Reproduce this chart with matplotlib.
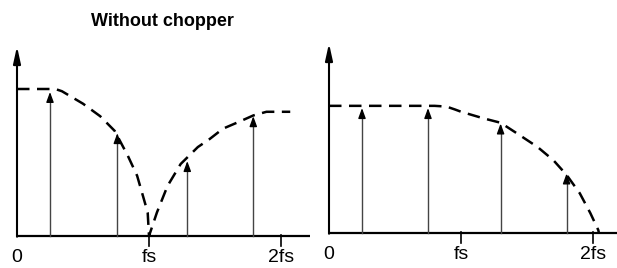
import numpy as np
import matplotlib
matplotlib.use("Agg")
import matplotlib.pyplot as plt

plt.rcParams['font.family'] = ['Liberation Sans', 'DejaVu Sans']

# frequency axis in units of fs, amplitude relative to the left peak
tick_pos = [0, 1, 2]
tick_labels = ['0', 'fs', '2fs']
title_left = 'Without chopper'

# left panel: envelope (dashed) and the sampled components (arrows)
env_left_x = [0.0, 0.29, 0.34, 0.50, 0.63, 0.74, 0.84, 0.91, 0.955, 0.99, 1.0,
              1.06, 1.14, 1.24, 1.37, 1.46, 1.56, 1.69, 1.79, 1.89, 2.07]
env_left_y = [1.0, 1.0, 0.985, 0.90, 0.815, 0.715, 0.545, 0.41, 0.27, 0.16, 0.0,
              0.16, 0.34, 0.49, 0.605, 0.66, 0.73, 0.78, 0.82, 0.845, 0.845]
arrows_left_x = [0.25, 0.76, 1.29, 1.79]
arrows_left_y = [0.98, 0.70, 0.51, 0.815]

# right panel
env_right_x = [0.0, 0.80, 0.89, 0.955, 1.0, 1.17, 1.30, 1.42, 1.58, 1.70, 1.80,
               1.90, 1.98, 2.04, 2.045]
env_right_y = [0.865, 0.865, 0.86, 0.84, 0.825, 0.78, 0.75, 0.68, 0.585, 0.495, 0.395,
               0.27, 0.135, 0.02, 0.0]
arrows_right_x = [0.25, 0.75, 1.30, 1.80]
arrows_right_y = [0.85, 0.85, 0.745, 0.405]

W, H = 617, 268
PX_X = 132.0   # pixels per fs
PX_Y = 147.0   # pixels per unit amplitude
HEAD = 0.055   # arrow head length in amplitude units

fig = plt.figure(figsize=(W / 100, H / 100), dpi=100)


def make_axes(left_px, width_px, origin_px, base_px):
    ax = fig.add_axes([left_px / W, 0, width_px / W, 1])
    x0 = (left_px - origin_px) / PX_X
    ax.set_xlim(x0, x0 + width_px / PX_X)
    bottom = H - base_px
    ax.set_ylim(-bottom / PX_Y, (H - bottom) / PX_Y)
    ax.axis('off')
    return ax


def draw_panel(ax, env_x, env_y, arr_x, arr_y, base_end):
    # axes
    ax.plot([0, base_end], [0, 0], color='black', lw=1.6, solid_capstyle='butt')
    ax.annotate('', xy=(0, 1.29), xytext=(0, -0.005),
                arrowprops=dict(arrowstyle='-|>,head_length=1.0,head_width=0.22',
                                mutation_scale=10, lw=1.5, color='black',
                                shrinkA=0, shrinkB=0))
    for t in tick_pos[1:]:
        ax.plot([t, t], [-0.07, 0.01], color='black', lw=1.2)
    for t, lab in zip(tick_pos, tick_labels):
        ax.text(t, -0.145, lab, ha='center', va='center', fontsize=14)
    # components: grey stem with a black head
    for x, y in zip(arr_x, arr_y):
        ax.plot([x, x], [0, y - HEAD], color='#444444', lw=1.0)
        ax.annotate('', xy=(x, y), xytext=(x, y - HEAD - 0.01),
                    arrowprops=dict(arrowstyle='-|>,head_length=0.6,head_width=0.22',
                                    mutation_scale=10, lw=1.0, color='black',
                                    shrinkA=0, shrinkB=0))
    # envelope
    ax.plot(env_x, env_y, color='black', lw=1.8, dashes=(5, 3))


axl = make_axes(0, 312, 17, 236)
draw_panel(axl, env_left_x, env_left_y, arrows_left_x, arrows_left_y,
           (310 - 17) / PX_X)

axr = make_axes(312, 305, 329, 233)
draw_panel(axr, env_right_x, env_right_y, arrows_right_x, arrows_right_y,
           (617 - 329) / PX_X)

fig.text(162 / W, 1 - 22 / H, title_left, ha='center', va='center',
         fontsize=13, fontweight='bold')

fig.savefig('out.png', dpi=100)
